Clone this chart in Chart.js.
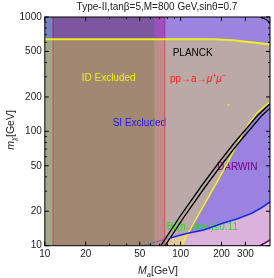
<!DOCTYPE html>
<html>
<head>
<meta charset="utf-8">
<script src="https://cdn.jsdelivr.net/npm/chart.js@4.4.1/dist/chart.umd.min.js"></script>
<style>
  html, body { margin: 0; padding: 0; background: #fff; }
  canvas { display: block; }
</style>
</head>
<body>
<canvas id="grafico" width="274" height="278"></canvas>
<script>
// eixos (log-log)
const xTicks = [10, 20, 50, 100, 200, 300];
const yTicks = [10, 20, 50, 100, 200, 500, 1000];
const xLim = [10, 455];
const yLim = [10, 1000];

// limites verticais em M_a (GeV): faixa esquerda, ID, pp->a->mumu
const stripEdges = [10, 11.5, 63.7, 76.4];

// PLANCK: linha amarela de cima
const planckX = [10, 136, 175, 245, 304, 372, 455];
const planckY = [640, 640, 638, 626, 608, 592, 575];

// relic: duas linhas pretas
const relicLeftX  = [71.45, 101.7, 142.3, 192.6, 247.9, 303.3, 364.8, 455];
const relicLeftY  = [10, 18.93, 33.27, 53.95, 79.1, 104.9, 136.2, 174.1];
const relicRightX = [76.93, 109.5, 153.2, 207.4, 266.9, 326.5, 392.9, 455];
const relicRightY = [10, 18.93, 33.27, 53.95, 79.1, 104.9, 136.2, 159.4];

// linha amarela de baixo
const yellowX = [101.2, 122.8, 150.2, 183.8, 221.1, 257.2, 284.4, 320.0, 366.0, 425.8, 455];
const yellowY = [10, 15.17, 23.16, 35.35, 52.87, 74.45, 94.8, 118.3, 144.7, 170.0, 180.6];

// SI (linha azul)
const siX = [52.97, 69.33, 84.0, 97.0, 114.8, 147.7, 206.7, 266.0, 330.9, 391.4, 455];
const siY = [10, 10.99, 11.68, 12.28, 12.91, 13.72, 15.79, 17.29, 19.12, 21.36, 24.11];

// linha roxa (canto inferior direito)
const purpleX = [383.1, 418.7, 455];
const purpleY = [10, 10.56, 11.22];

// curva preta no topo, a direita
const topX = [385, 411.7, 436.6, 455];
const topY = [1000, 970, 932, 877.6];

// ponto amarelo isolado
const dotX = [224.9];
const dotY = [170];

const F = '"Liberation Sans", Arial, sans-serif';
Chart.defaults.font.family = F;

const P = (xs, ys) => xs.map((x, i) => ({x: x, y: ys[i]}));

function area(points, cor) {
    return {data: points, backgroundColor: cor, borderWidth: 0, borderColor: 'transparent',
        fill: 'shape', pointRadius: 0, tension: 0, clip: 0};
}
function linha(points, cor, w) {
    return {data: points, borderColor: cor, borderWidth: w, fill: false,
        pointRadius: 0, tension: 0, clip: 0};
}

const lowColors  = ['#a0a78a', '#a08872', '#bd8d8b'];
const highColors = ['#7384c4', '#7d56a0', '#a04dbd'];
const lineLow    = ['#c8504a', '#8e9a5c', '#c8504a'];
const lineHigh   = ['#a0206e', '#6a6a92', '#9a2a8a'];

const x0 = xLim[0], x1 = xLim[1], y0 = yLim[0], y1 = yLim[1];
const yP = planckY[0];

const datasets = [];
for (let i = 0; i < 3; i++) {
    const a = stripEdges[i], b = stripEdges[i + 1];
    datasets.push(area([{x: a, y: y0}, {x: b, y: y0}, {x: b, y: yP}, {x: a, y: yP}, {x: a, y: y0}], lowColors[i]));
    datasets.push(area([{x: a, y: yP}, {x: b, y: yP}, {x: b, y: y1}, {x: a, y: y1}, {x: a, y: yP}], highColors[i]));
}
const m = stripEdges[3];
const planckR = P(planckX, planckY).filter(p => p.x > m);
datasets.push(area([{x: m, y: y0}, {x: x1, y: y0}, ...planckR.slice().reverse(), {x: m, y: yP}, {x: m, y: y0}], '#baa9a6'));
datasets.push(area([{x: m, y: yP}, ...planckR, {x: x1, y: y1}, {x: m, y: y1}, {x: m, y: yP}], '#9a84e0'));

const yl = P(yellowX, yellowY);
const si = P(siX, siY);
const pu = P(purpleX, purpleY);
const rr0 = {x: relicRightX[0], y: relicRightY[0]};
datasets.push(area([...yl, {x: x1, y: y0}, yl[0]], '#9a82e0'));                 // DARWIN
datasets.push(area([rr0, ...si.slice(2, 5), yl[0], rr0], '#e2c89c'));            // entre preto e amarelo
datasets.push(area([yl[0], ...si.slice(4), {x: x1, y: y0}, yl[0]], '#dbb3da'));  // abaixo do azul
datasets.push(area([...pu, {x: x1, y: y0}, pu[0]], '#f3ecf3'));
const ultimaArea = datasets.length - 1;

for (let i = 1; i < 4; i++) {
    const v = stripEdges[i];
    datasets.push(linha([{x: v, y: y0}, {x: v, y: yP}], lineLow[i - 1], 1));
    datasets.push(linha([{x: v, y: yP}, {x: v, y: y1}], lineHigh[i - 1], 1));
}
datasets.push(linha(P(planckX, planckY), '#eeee22', 2));
datasets.push(linha(yl, '#f2f21e', 1.5));
datasets.push(linha(P(relicLeftX, relicLeftY), '#000', 1.3));
datasets.push(linha(P(relicRightX, relicRightY), '#000', 1.3));
const azul = linha(si, '#1a2ae6', 1.6);
azul.segment = {
    borderWidth: c => c.p1DataIndex <= 2 ? 0.8 : 1.6,
    borderColor: c => c.p1DataIndex <= 2 ? 'rgba(40,60,220,0.6)' : '#1a2ae6'
};
datasets.push(azul);
datasets.push(linha(pu, '#800080', 1.5));
datasets.push(linha(P(topX, topY), '#000', 1.3));
datasets.push({data: P(dotX, dotY), showLine: false, pointStyle: 'rect', pointRadius: 1.2,
    pointBackgroundColor: '#f0f020', pointBorderWidth: 0, clip: 0});

// primeiro da lista = desenhado primeiro
datasets.forEach((d, i) => { d.order = datasets.length - i; });

function partes(ctx, lista, x, y, align) {
    let w = 0;
    lista.forEach(p => { ctx.font = p[1]; w += ctx.measureText(p[0]).width; });
    let cx = align === 'center' ? x - w / 2 : x;
    lista.forEach(p => {
        ctx.font = p[1];
        ctx.fillText(p[0], cx, y + (p[2] || 0));
        cx += ctx.measureText(p[0]).width;
    });
}

function textos(chart) {
    const ctx = chart.ctx;
    const r = '10px ' + F, it = 'italic 10px ' + F, sm = '7px ' + F;
    ctx.save();
    ctx.textAlign = 'left';
    ctx.textBaseline = 'alphabetic';
    ctx.fillStyle = '#000';
    partes(ctx, [['PLANCK', r]], 172.7, 55.5);
    ctx.fillStyle = '#f0f000';
    partes(ctx, [['ID Excluded', r]], 81.7, 80.8);
    ctx.fillStyle = '#ff1a1a';
    partes(ctx, [['pp\u2192a\u2192', r], ['\u03bc', it], ['+', sm, -4], ['\u03bc', it], ['\u2212', sm, -4]], 170, 81.5);
    ctx.fillStyle = '#1a1aff';
    partes(ctx, [['SI Excluded', r]], 112.7, 126.2);
    ctx.fillStyle = '#800080';
    partes(ctx, [['DARWIN', r]], 217, 169.8);
    ctx.fillStyle = '#22dd22';
    partes(ctx, [['Br(h\u2192inv.)\u22640.11', r]], 166.7, 230.3);
    ctx.restore();
}

function moldura(chart) {
    const {ctx, chartArea: a, scales: {x, y}} = chart;
    ctx.save();
    ctx.strokeStyle = '#000';
    ctx.lineWidth = 1;
    ctx.beginPath();
    for (let d = 1; d <= 1000; d *= 10) {
        for (let k = 1; k < 10; k++) {
            const v = k * d;
            if (v >= x0 && v <= x1) {
                const px = x.getPixelForValue(v);
                const len = xTicks.includes(v) ? 4 : 2;
                ctx.moveTo(px, a.bottom); ctx.lineTo(px, a.bottom - len);
                ctx.moveTo(px, a.top); ctx.lineTo(px, a.top + len);
            }
            if (v >= y0 && v <= y1) {
                const py = y.getPixelForValue(v);
                const len = yTicks.includes(v) ? 4 : 2;
                ctx.moveTo(a.left, py); ctx.lineTo(a.left + len, py);
                ctx.moveTo(a.right, py); ctx.lineTo(a.right - len, py);
            }
        }
    }
    ctx.stroke();
    ctx.strokeRect(a.left, a.top, a.right - a.left, a.bottom - a.top);

    // titulo e rotulos dos eixos
    ctx.fillStyle = '#222';
    ctx.textBaseline = 'alphabetic';
    partes(ctx, [['Type-II,tan\u03b2=5,M=800 GeV,sin\u03b8=0.7', '10px ' + F]], 157, 9.5, 'center');
    partes(ctx, [['M', 'italic 10.5px ' + F], ['a', 'italic 7.5px ' + F, 2.5], ['[GeV]', '10.5px ' + F]], 158, 274, 'center');
    ctx.translate(13.5, 130);
    ctx.rotate(-Math.PI / 2);
    partes(ctx, [['m', 'italic 10.5px ' + F], ['\u03c7', 'italic 7.5px ' + F, 2.5], ['[GeV]', '10.5px ' + F]], 0, 0, 'center');
    ctx.restore();
}

const desenho = {
    id: 'desenho',
    afterDatasetDraw(chart, args) {
        if (args.index === ultimaArea) textos(chart);
    },
    afterDatasetsDraw(chart) {
        moldura(chart);
    }
};

const ctx = document.getElementById('grafico').getContext('2d');

const grafico = new Chart(ctx, {
    type: 'line',
    data: { datasets: datasets },
    options: {
        responsive: false,
        animation: false,
        devicePixelRatio: 1,
        layout: { padding: { top: 17, right: 2, left: 0, bottom: 0 } },
        plugins: {
            legend: { display: false },
            title: { display: false },
            tooltip: { enabled: false }
        },
        scales: {
            x: {
                type: 'logarithmic',
                min: x0,
                max: x1,
                afterBuildTicks: s => { s.ticks = xTicks.map(v => ({value: v})); },
                afterFit: s => { s.height = 32.3; },
                grid: { display: false, drawTicks: false },
                border: { display: false },
                ticks: {
                    autoSkip: false, maxRotation: 0, padding: 3, color: '#222',
                    font: { size: 10 },
                    callback: v => String(v)
                }
            },
            y: {
                type: 'logarithmic',
                min: y0,
                max: y1,
                afterBuildTicks: s => { s.ticks = yTicks.map(v => ({value: v})); },
                afterFit: s => { s.width = 44.8; },
                grid: { display: false, drawTicks: false },
                border: { display: false },
                ticks: {
                    autoSkip: false, padding: 3, color: '#222',
                    font: { size: 10 },
                    callback: v => String(v)
                }
            }
        }
    },
    plugins: [desenho]
});
</script>
</body>
</html>
